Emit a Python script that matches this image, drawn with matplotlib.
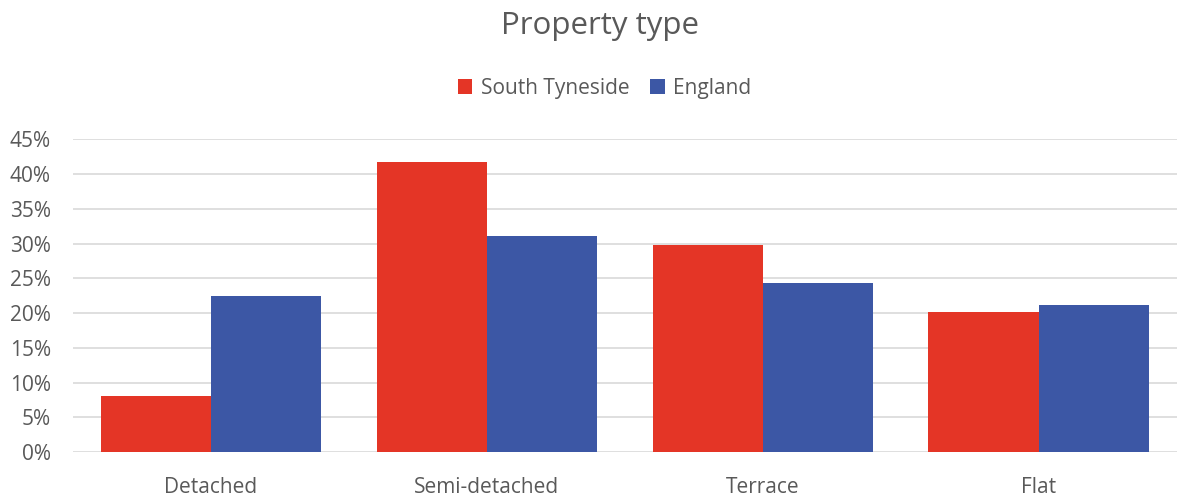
import matplotlib.pyplot as plt
import numpy as np
from matplotlib.ticker import PercentFormatter

plt.rcParams['font.family'] = ['Open Sans', 'DejaVu Sans']

categories = ["Detached", "Semi-detached", "Terrace", "Flat"]
south_tyneside = [0.081, 0.417, 0.298, 0.201]
england = [0.224, 0.311, 0.243, 0.211]

red = '#E43526'
blue = '#3C57A5'
txt = '#595959'

fig = plt.figure(figsize=(11.78, 4.97), dpi=100)
ax = fig.add_axes([0.062, 0.09, 0.937, 0.63])

x = np.arange(len(categories))
w = 0.4
ax.bar(x - w / 2, south_tyneside, w, color=red, label="South Tyneside", zorder=3)
ax.bar(x + w / 2, england, w, color=blue, label="England", zorder=3)

ax.set_xlim(-0.5, len(categories) - 0.5)
ax.set_ylim(0, 0.45)
ax.set_yticks(np.arange(0, 0.46, 0.05))
ax.yaxis.set_major_formatter(PercentFormatter(1.0, decimals=0))
ax.set_xticks(x, categories)
ax.grid(axis='y', color='#D9D9D9', linewidth=1.2, zorder=0)
for s in ax.spines.values():
    s.set_visible(False)
ax.tick_params(length=0, colors=txt, labelsize=15)
ax.tick_params(axis='x', pad=18)
ax.tick_params(axis='y', pad=16)

fig.text(0.509, 0.948, "Property type", ha='center', va='center', fontsize=22.5, color=txt)
fig.legend(loc='center', bbox_to_anchor=(0.513, 0.822), ncol=2, frameon=False,
           fontsize=15, labelcolor=txt, handlelength=0.7, handleheight=0.7,
           handletextpad=0.4, columnspacing=1.0)

fig.savefig('out.png', dpi=100)
